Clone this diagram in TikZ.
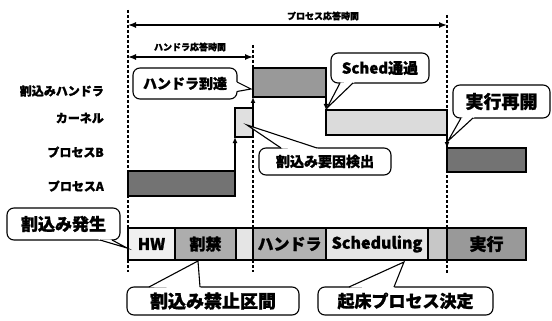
\documentclass[tikz,border=0pt]{standalone}
\usepackage{fontspec}
\setmainfont{Noto Sans CJK JP}[BoldFeatures={FakeBold=1.2}]
\usetikzlibrary{calc,arrows.meta}
\newcommand\callptr[4]{%
  \fill[white] (#2) -- (#3) -- (#4) -- ($(#4)!2pt!(#1.center)$) -- ($(#2)!2pt!(#1.center)$) -- cycle;
  \draw[line width=1.1pt,line join=miter] (#2) -- (#3) -- (#4);}
\newcommand\fsz[1]{\fontsize{#1}{#1}\selectfont}
\begin{document}
\begin{tikzpicture}[x=1pt,y=-1pt,
  bar/.style={draw,line width=1.3pt,inner sep=0pt,outer sep=0pt},
  seg/.style={draw,line width=1.2pt,inner sep=0pt,outer sep=0pt,minimum height=32pt,font=\bfseries\fsz{16}},
  call/.style={draw,line width=1.1pt,fill=white,rounded corners=7pt,inner sep=0pt,outer sep=0pt},
  rowlab/.style={anchor=east,inner sep=0pt,font=\bfseries\fsz{12}},
  toplab/.style={inner sep=0pt,font=\bfseries\fsz{9}},
  vguide/.style={line width=1.3pt,dash pattern=on 3pt off 2pt},
  trans/.style={line width=1.3pt,-{Latex[length=6pt,width=5pt]}},
  dimline/.style={line width=1.4pt,{Latex[length=8pt,width=6pt]}-{Latex[length=8pt,width=6pt]}}]
\useasboundingbox (0,0) rectangle (552,321);

% dashed guides
\coordinate (g1t) at (128,10);  \coordinate (g1b) at (128,272);
\coordinate (g2t) at (253,45);  \coordinate (g2b) at (253,272);
\coordinate (g3t) at (447,15);  \coordinate (g3b) at (447,273);
\draw[vguide] (g1t) -- (g1b);
\draw[vguide] (g2t) -- (g2b);
\draw[vguide] (g3t) -- (g3b);

% dimension arrows
\coordinate (m1a) at (128,25); \coordinate (m1b) at (447,25);
\draw[dimline] (m1a) -- (m1b);
\node[toplab] (lab1) at (323,16) {プロセス応答時間};
\coordinate (m2a) at (128,57); \coordinate (m2b) at (253,57);
\draw[dimline] (m2a) -- (m2b);
\node[toplab] (lab2) at (190,47) {ハンドラ応答時間};

% row labels
\node[rowlab] (lh) at (104,91) {割込みハンドラ};
\node[rowlab] (lk) at (104,118) {カーネル};
\node[rowlab] (lb) at (104,152) {プロセスB};
\node[rowlab] (la) at (104,186) {プロセスA};

% execution bars
\node[bar,fill=black!55,minimum width=107pt,minimum height=25pt] (A) at (181.5,183.5) {};
\node[bar,fill=black!12,minimum width=18pt,minimum height=29pt] (K1) at (244,122.5) {};
\node[bar,fill=black!40,minimum width=73pt,minimum height=29pt] (H) at (289.5,82.5) {};
\node[bar,fill=black!14,minimum width=121pt,minimum height=25pt] (K2) at (386.5,122.5) {};
\node[bar,fill=black!55,minimum width=79pt,minimum height=24pt] (B) at (486.5,160) {};

\draw[trans] (A.north east) -- (K1.south west);
\draw[trans] (K1.north east) -- (H.south west);
\draw[trans] (H.south east) -- (K2.north west);
\draw[trans] (K2.south east) -- (B.north west);

% bottom segments
\node[seg,fill=black!6,minimum width=47pt] (sHW) at (151.5,244) {HW};
\node[seg,fill=black!32,minimum width=61pt] (sKK) at (205.5,244) {割禁};
\node[seg,fill=black!10,minimum width=17pt] (sG1) at (244.5,244) {};
\node[seg,fill=black!30,minimum width=73pt] (sHD) at (289.5,244) {ハンドラ};
\node[seg,fill=black!10,minimum width=102pt] (sSC) at (377,244) {Scheduling};
\node[seg,fill=black!22,minimum width=19pt] (sG2) at (437.5,244) {};
\node[seg,fill=black!40,minimum width=79pt,font=\bfseries\fsz{17}] (sEX) at (486.5,244) {実行};

% callouts
\node[call,minimum width=113pt,minimum height=32pt,font=\bfseries\fsz{17}] (c1) at (63.5,224) {割込み発生};
\coordinate (c1a) at ($(c1.south east)+(-20,0)$);
\coordinate (c1b) at ($(c1.south east)+(-8,0)$);
\coordinate (t1) at (127,248);
\callptr{c1}{c1a}{t1}{c1b}

\node[call,minimum width=104pt,minimum height=31pt,font=\bfseries\fsz{14}] (c2) at (185,83.5) {ハンドラ到達};
\coordinate (c2a) at ($(c2.east)+(0,-1.5)$);
\coordinate (c2b) at ($(c2.east)+(0,8)$);
\coordinate (t2) at (251,89);
\callptr{c2}{c2a}{t2}{c2b}

\node[call,minimum width=98pt,minimum height=30pt,font=\bfseries\fsz{15}] (c3) at (380,68) {Sched通過};
\coordinate (c3a) at ($(c3.south west)+(9,0)$);
\coordinate (c3b) at ($(c3.south west)+(22,0)$);
\coordinate (t3) at (327,108);
\callptr{c3}{c3a}{t3}{c3b}

\node[call,minimum width=97pt,minimum height=33pt,font=\bfseries\fsz{18}] (c4) at (501.5,101.5) {実行再開};
\coordinate (c4a) at ($(c4.south west)+(8,0)$);
\coordinate (c4b) at ($(c4.south west)+(20,0)$);
\coordinate (t4) at (448,141);
\callptr{c4}{c4a}{t4}{c4b}

\node[call,minimum width=132pt,minimum height=27pt,font=\bfseries\fsz{14}] (c5) at (325,161.5) {割込み要因検出};
\coordinate (c5a) at ($(c5.north west)+(22,0)$);
\coordinate (c5b) at ($(c5.north west)+(58,0)$);
\coordinate (t5) at (247,125);
\callptr{c5}{c5a}{t5}{c5b}

\node[call,minimum width=172pt,minimum height=28pt,font=\bfseries\fsz{18}] (c6) at (213,301) {割込み禁止区間};
\coordinate (c6a) at ($(c6.north west)+(22,0)$);
\coordinate (c6b) at ($(c6.north west)+(73,0)$);
\coordinate (t6) at (198,261);
\callptr{c6}{c6a}{t6}{c6b}

\node[call,minimum width=175pt,minimum height=28pt,font=\bfseries\fsz{17}] (c7) at (405.5,301) {起床プロセス決定};
\coordinate (c7a) at ($(c7.north west)+(31,0)$);
\coordinate (c7b) at ($(c7.north west)+(76,0)$);
\coordinate (t7) at (404,262);
\callptr{c7}{c7a}{t7}{c7b}
\end{tikzpicture}
\end{document}
